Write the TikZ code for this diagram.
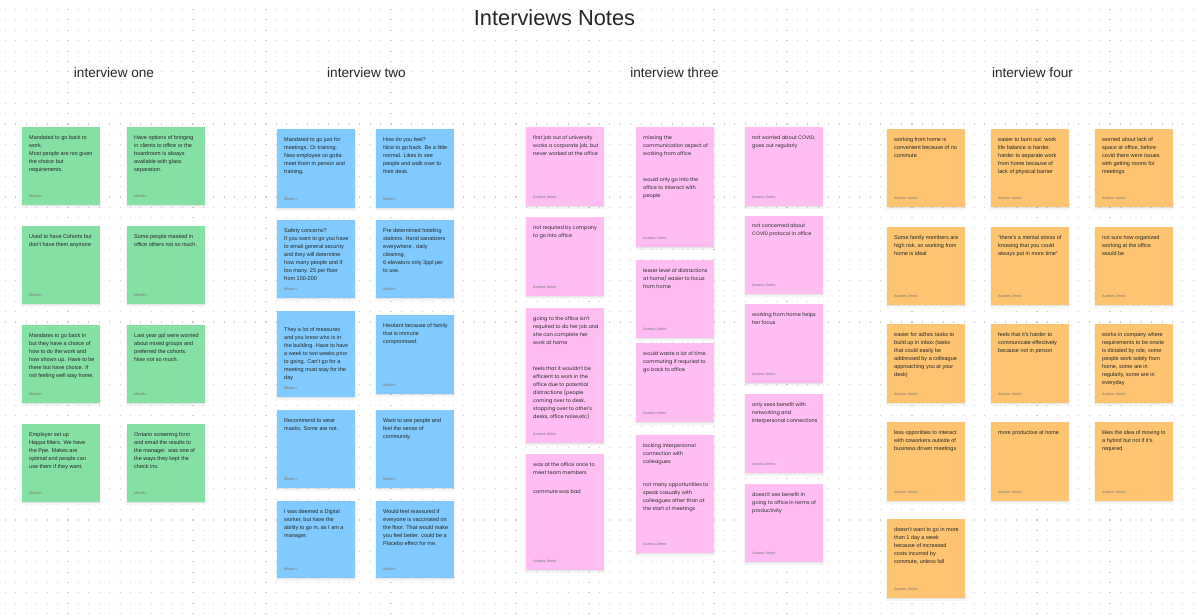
\documentclass[tikz,border=0pt]{standalone}
\usepackage{fontspec}
\setmainfont{Liberation Sans}
\newfontfamily\poppfont{Poppins}
\definecolor{gnote}{HTML}{85E0A3}
\definecolor{bnote}{HTML}{80CAFF}
\definecolor{pnote}{HTML}{FFBDF2}
\definecolor{onote}{HTML}{FFC470}
\definecolor{dotc}{HTML}{CFCFCF}
\definecolor{inkc}{HTML}{262626}
\definecolor{authc}{HTML}{7A7A7A}
\newcommand\ntxt{\fontsize{5.5}{8}\selectfont}
\newcommand\ptxt{\poppfont\fontsize{5}{8}\selectfont}
\tikzset{
  notebox/.style={anchor=north west, minimum width=78, inner sep=0, draw=none},
  notetext/.style={anchor=north west, inner sep=0, align=left, text=inkc},
  authortext/.style={anchor=base west, inner sep=0, text=authc, font=\fontsize{3.8}{4}\selectfont},
  header/.style={font=\fontsize{13.6}{16}\selectfont, text=inkc, inner sep=0}
}
\newcommand\sticky[9]{%
  \fill[black,opacity=0.04] (#2-0.8,#3+0.5) rectangle (#2+78.8,#3+#4+2.8);
  \fill[black,opacity=0.07] (#2-0.3,#3+0.5) rectangle (#2+78.3,#3+#4+1.3);
  \node[notebox,fill=#5,minimum height=#4] (#1) at (#2,#3) {};
  \node[notetext,font=#6] (#1-t) at ([xshift=7pt,yshift=-#7pt]#1.north west) {#8};
  \node[authortext] (#1-a) at ([xshift=7pt,yshift=8pt]#1.south west) {#9};
}
\begin{document}
\begin{tikzpicture}[x=1pt,y=-1pt]
\useasboundingbox (0,0) rectangle (1196,614);
\fill[white] (0,0) rectangle (1196,614);
\foreach \r in {0,...,58}{
  \draw[dotc, line width=1.1pt, dash pattern=on 1.1pt off 9.32pt] (4.9,9.4+\r*10.42) -- (1196,9.4+\r*10.42);
}
% titles
\node[font=\fontsize{21.8}{26}\selectfont, text=inkc, inner sep=0] (title) at (554.5,18) {Interviews Notes};
\node[header] (h1) at (114,73) {interview one};
\node[header] (h2) at (366.5,73) {interview two};
\node[header] (h3) at (674.5,73) {interview three};
\node[header] (h4) at (1032.5,73) {interview four};
% interview one
\sticky{a1}{22}{127}{78}{gnote}{\ntxt}{8}{Mandated to go back to\\work.\\Most people are not given\\the choice but\\requirements.}{Mladen}
\sticky{a2}{127}{127}{78}{gnote}{\ntxt}{8}{Have options of bringing\\in clients to office or the\\boardroom is always\\available with glass\\separation.}{Mladen}
\sticky{a3}{22}{226}{78}{gnote}{\ntxt}{8}{Used to have Cohorts but\\don't have them anymore}{Mladen}
\sticky{a4}{127}{226}{78}{gnote}{\ntxt}{8}{Some people masked in\\office others not so much.}{Mladen}
\sticky{a5}{22}{325}{78}{gnote}{\ntxt}{8}{Mandates to go back in\\but they have a choice of\\how to do the work and\\how shown up. Have to be\\there but have choice.  If\\not feeling well stay home.}{Mladen}
\sticky{a6}{127}{325}{78}{gnote}{\ntxt}{8}{Last year ppl were worried\\about mixed groups and\\preferred the cohorts.\\Now not so much.}{Mladen}
\sticky{a7}{22}{424}{78}{gnote}{\ntxt}{8}{Employer set up\\Heppa filters.  We have\\the Ppe.  Makes are\\optimal and people can\\use them if they want.}{Mladen}
\sticky{a8}{127}{424}{78}{gnote}{\ntxt}{8}{Ontario screening form\\and email the results to\\the manager. was one of\\the ways they kept the\\check ins.}{Mladen}
% interview two
\sticky{b1}{277}{129}{79}{bnote}{\ntxt}{8}{Mandated to go just for\\meetings.  Or training.\\New employee so gotta\\meet them in person and\\training.}{Mladen}
\sticky{b2}{376}{129}{79}{bnote}{\ntxt}{8}{How do you feel?\\Nice to go back. Be a little\\normal.  Likes to see\\people and walk over to\\their desk.}{Mladen}
\sticky{b3}{277}{220}{78}{bnote}{\ntxt}{8}{Safety concerns?\\If you want to go you have\\to email general security\\and they will determine\\how many people and if\\too many. 25 per floor\\from 150-200}{Mladen}
\sticky{b4}{376}{220}{78}{bnote}{\ntxt}{8}{Pre determined hoteling\\stations.  Hand sanatizers\\everywhere , daily\\cleaning,\\6 elevators only 3ppl per\\to use.}{Mladen}
\sticky{b5}{277}{311}{86}{bnote}{\ntxt}{16}{They a lot of measures\\and you know who is in\\the building.  Have to have\\a week to two weeks prior\\to going.  Can't go for a\\meeting must stay for the\\day}{Mladen}
\sticky{b6}{376}{315}{79}{bnote}{\ntxt}{8}{Hesitant because of family\\that is immune\\compromised.}{Mladen}
\sticky{b7}{277}{410}{78}{bnote}{\ntxt}{8}{Recommend to wear\\masks. Some are not.}{Mladen}
\sticky{b8}{376}{410}{78}{bnote}{\ntxt}{8}{Want to see people and\\feel the sense of\\community.}{Mladen}
\sticky{b9}{277}{501}{77}{bnote}{\ntxt}{8}{I was deemed a Digital\\worker, but have the\\ability to go in, as I am a\\manager.}{Mladen}
\sticky{b10}{376}{501}{77}{bnote}{\ntxt}{8}{Would feel reassured if\\everyone is vaccinated on\\the floor. That would make\\you feel better. could be a\\Placebo effect for me.}{Mladen}
% interview three
\sticky{c1}{526}{127}{79}{pnote}{\ptxt}{8}{first job out of university\\works a corporate job, but\\never worked at the office}{Aarona Amiro}
\sticky{c2}{526}{217}{79}{pnote}{\ptxt}{8}{not requried by company\\to go into office}{Aarona Amiro}
\sticky{c3}{526}{308}{135}{pnote}{\ptxt}{8}{going to the office isn't\\required to do her job and\\she can complete her\\work at home\\[18pt]feels that it wouldn't be\\efficient to work in the\\office due to potential\\distractions (people\\coming over to desk,\\stopping over to other's\\desks, office noise,etc)}{Aarona Amiro}
\sticky{c4}{526}{454}{116}{pnote}{\ptxt}{8}{was at the office once to\\meet team members\\[11pt]commute was bad}{Aarona Amiro}
\sticky{c5}{636}{127}{120}{pnote}{\ptxt}{8}{missing the\\communication aspect of\\working from office\\[18pt]would only go into the\\office to interact with\\people}{Aarona Amiro}
\sticky{c6}{636}{260}{78}{pnote}{\ptxt}{8}{lesser level of distractions\\at home/ easier to focus\\from home}{Aarona Amiro}
\sticky{c7}{636}{343}{79}{pnote}{\ptxt}{8}{would waste a lot of time\\commuting if requried to\\go back to office}{Aarona Amiro}
\sticky{c8}{636}{435}{118}{pnote}{\ptxt}{8}{lacking interpersonal\\connection with\\colleagues\\[15pt]not many opportunities to\\speak casually with\\colleagues other than at\\the start of meetings}{Aarona Amiro}
\sticky{c9}{745}{127}{79}{pnote}{\ptxt}{8}{not worried about COVID,\\goes out regularly}{Aarona Amiro}
\sticky{c10}{745}{216}{78}{pnote}{\ptxt}{8}{not concerned about\\COVID protocol in office}{Aarona Amiro}
\sticky{c11}{745}{304}{79}{pnote}{\ptxt}{8}{working from home helps\\her focus}{Aarona Amiro}
\sticky{c12}{745}{394}{79}{pnote}{\ptxt}{8}{only sees benefit with\\networking and\\interpersonal connections}{Aarona Amiro}
\sticky{c13}{745}{484}{78}{pnote}{\ptxt}{8}{doesn't see benefit in\\going to office in terms of\\productivity}{Aarona Amiro}
% interview four
\sticky{d1}{887}{129}{78}{onote}{\ntxt}{8}{working from home is\\convenient because of no\\commute}{Aarone Amiro}
\sticky{d2}{887}{227}{78}{onote}{\ntxt}{8}{Some family members are\\high risk, so working from\\home is ideal}{Aarone Amiro}
\sticky{d3}{887}{324}{79}{onote}{\ntxt}{8}{easier for adhoc tasks to\\build up in inbox (tasks\\that could easily be\\addressed by a colleague\\approaching you at your\\desk)}{Aarone Amiro}
\sticky{d4}{887}{422}{79}{onote}{\ntxt}{8}{less opportities to interact\\with coworkers outside of\\business driven meetings}{Aarone Amiro}
\sticky{d5}{887}{519}{79}{onote}{\ntxt}{8}{doesn't want to go in more\\than 1 day a week\\because of increased\\costs incurred by\\commute, unless fall}{Aarone Amiro}
\sticky{d6}{991}{129}{78}{onote}{\ntxt}{8}{easier to burn out: work\\life balance is harder,\\harder to separate work\\from home because of\\lack of physical barrier}{Aarone Amiro}
\sticky{d7}{991}{227}{78}{onote}{\ntxt}{8}{“there's a mental stress of\\knowing that you could\\always put in more time”}{Aarone Amiro}
\sticky{d8}{991}{324}{79}{onote}{\ntxt}{8}{feels that it's harder to\\communicate effectively\\because not in person}{Aarone Amiro}
\sticky{d9}{991}{422}{79}{onote}{\ntxt}{8}{more productive at home}{Aarone Amiro}
\sticky{d10}{1095}{129}{78}{onote}{\ntxt}{8}{worried about lack of\\space at office, before\\covid there were issues\\with getting rooms for\\meetings}{Aarone Amiro}
\sticky{d11}{1095}{227}{78}{onote}{\ntxt}{8}{not sure how organized\\working at the office\\would be}{Aarone Amiro}
\sticky{d12}{1095}{324}{79}{onote}{\ntxt}{8}{works in company where\\requirements to be onsite\\is dictated by role, some\\people work solely from\\home, some are in\\regularly, some are in\\everyday}{Aarone Amiro}
\sticky{d13}{1095}{422}{79}{onote}{\ntxt}{8}{likes the idea of moving to\\a hybrid but not if it's\\required}{Aarone Amiro}
\end{tikzpicture}
\end{document}
